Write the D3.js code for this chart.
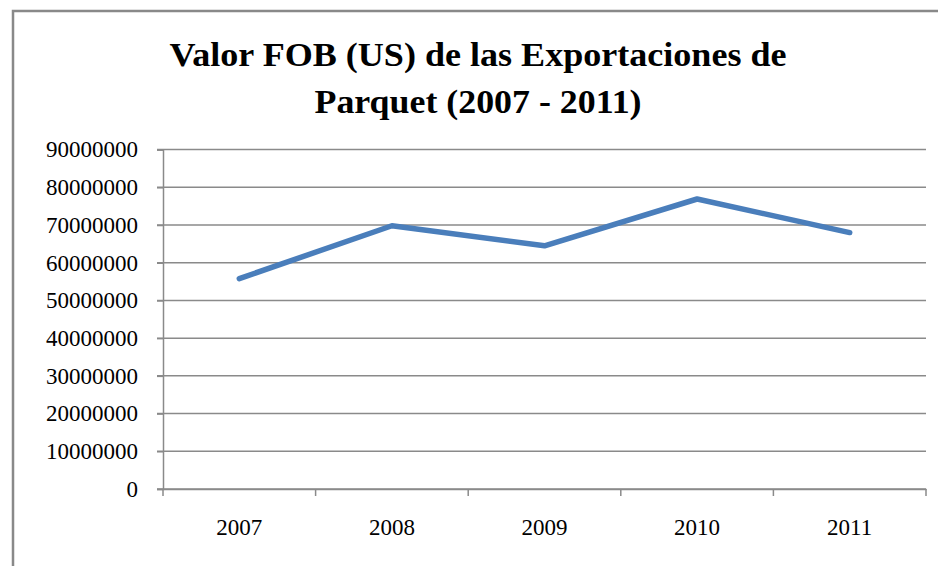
<!DOCTYPE html>
<html>
<head>
<meta charset="utf-8">
<script src="https://cdn.jsdelivr.net/npm/d3@7"></script>
<style>
  html, body { margin: 0; padding: 0; background: #fff; }
  svg { display: block; }
</style>
</head>
<body>
<div id="chart"></div>
<script>
// data
var years = ["2007", "2008", "2009", "2010", "2011"];
var fobValues = [55800000, 69800000, 64500000, 76900000, 68000000];
var yTicks = [0, 10000000, 20000000, 30000000, 40000000, 50000000, 60000000, 70000000, 80000000, 90000000];
var titleLines = ["Valor FOB (US) de las Exportaciones de", "Parquet (2007 - 2011)"];

var width = 938, height = 566;
var margin = {top: 149.6, right: 12, bottom: 77, left: 163};
var serif = "'Liberation Serif', 'Times New Roman', Times, 'DejaVu Serif', serif";

var svg = d3.select("#chart").append("svg")
    .attr("width", width)
    .attr("height", height);

// outer chart border (cut off at right and bottom like the picture)
svg.append("rect")
    .attr("x", 13).attr("y", 11)
    .attr("width", width + 20).attr("height", height + 20)
    .attr("fill", "none")
    .attr("stroke", "#898989")
    .attr("stroke-width", 2.5);

// title - the original uses a wide Garamond, so stretch to its widths
var titleWidths = [617, 327];
svg.append("g").selectAll("text")
    .data(titleLines)
    .enter().append("text")
    .attr("x", 478)
    .attr("y", function(d, i) { return 66 + i * 47; })
    .attr("text-anchor", "middle")
    .attr("textLength", function(d, i) { return titleWidths[i]; })
    .attr("lengthAdjust", "spacingAndGlyphs")
    .style("font-family", serif)
    .style("font-weight", "bold")
    .style("font-size", "33px")
    .text(function(d) { return d; });

var x = d3.scaleBand()
    .domain(years)
    .range([margin.left, width - margin.right]);

var y = d3.scaleLinear()
    .domain([0, 90000000])
    .range([height - margin.bottom, margin.top]);

// gridlines
svg.append("g")
    .selectAll("line")
    .data(yTicks)
    .enter().append("line")
    .attr("x1", margin.left - 6)
    .attr("x2", width - margin.right)
    .attr("y1", function(d) { return y(d); })
    .attr("y2", function(d) { return y(d); })
    .attr("stroke", "#8a8a8a")
    .attr("stroke-width", 1.5);

// y axis
var yAxis = svg.append("g")
    .attr("transform", "translate(" + margin.left + ",0)")
    .call(d3.axisLeft(y).tickValues(yTicks).tickFormat(d3.format("d")).tickSize(6).tickPadding(19));
yAxis.select(".domain").attr("stroke", "#8a8a8a").attr("stroke-width", 1.5);
yAxis.selectAll(".tick line").attr("stroke", "#8a8a8a").attr("stroke-width", 1.5);
yAxis.selectAll("text")
    .style("font-family", serif)
    .style("font-size", "23px")
    .attr("fill", "#000");

// x axis with ticks at band boundaries
var xAxis = svg.append("g")
    .attr("transform", "translate(0," + y(0) + ")")
    .call(d3.axisBottom(x).tickSize(0).tickPadding(30));
xAxis.select(".domain").attr("stroke", "#8a8a8a").attr("stroke-width", 1.5);
xAxis.selectAll("text")
    .style("font-family", serif)
    .style("font-size", "23px")
    .attr("fill", "#000");

var bounds = years.map(function(d) { return x(d); }).concat([x.range()[1]]);
xAxis.selectAll(".bound")
    .data(bounds)
    .enter().append("line")
    .attr("class", "bound")
    .attr("x1", function(d) { return d; })
    .attr("x2", function(d) { return d; })
    .attr("y1", 0)
    .attr("y2", 7)
    .attr("stroke", "#8a8a8a")
    .attr("stroke-width", 1.5);

// the series line
var line = d3.line()
    .x(function(d, i) { return x(years[i]) + x.bandwidth() / 2; })
    .y(function(d) { return y(d); });

svg.append("path")
    .datum(fobValues)
    .attr("d", line)
    .attr("fill", "none")
    .attr("stroke", "#4a7ebb")
    .attr("stroke-width", 5.5)
    .attr("stroke-linecap", "round")
    .attr("stroke-linejoin", "round");
</script>
</body>
</html>
